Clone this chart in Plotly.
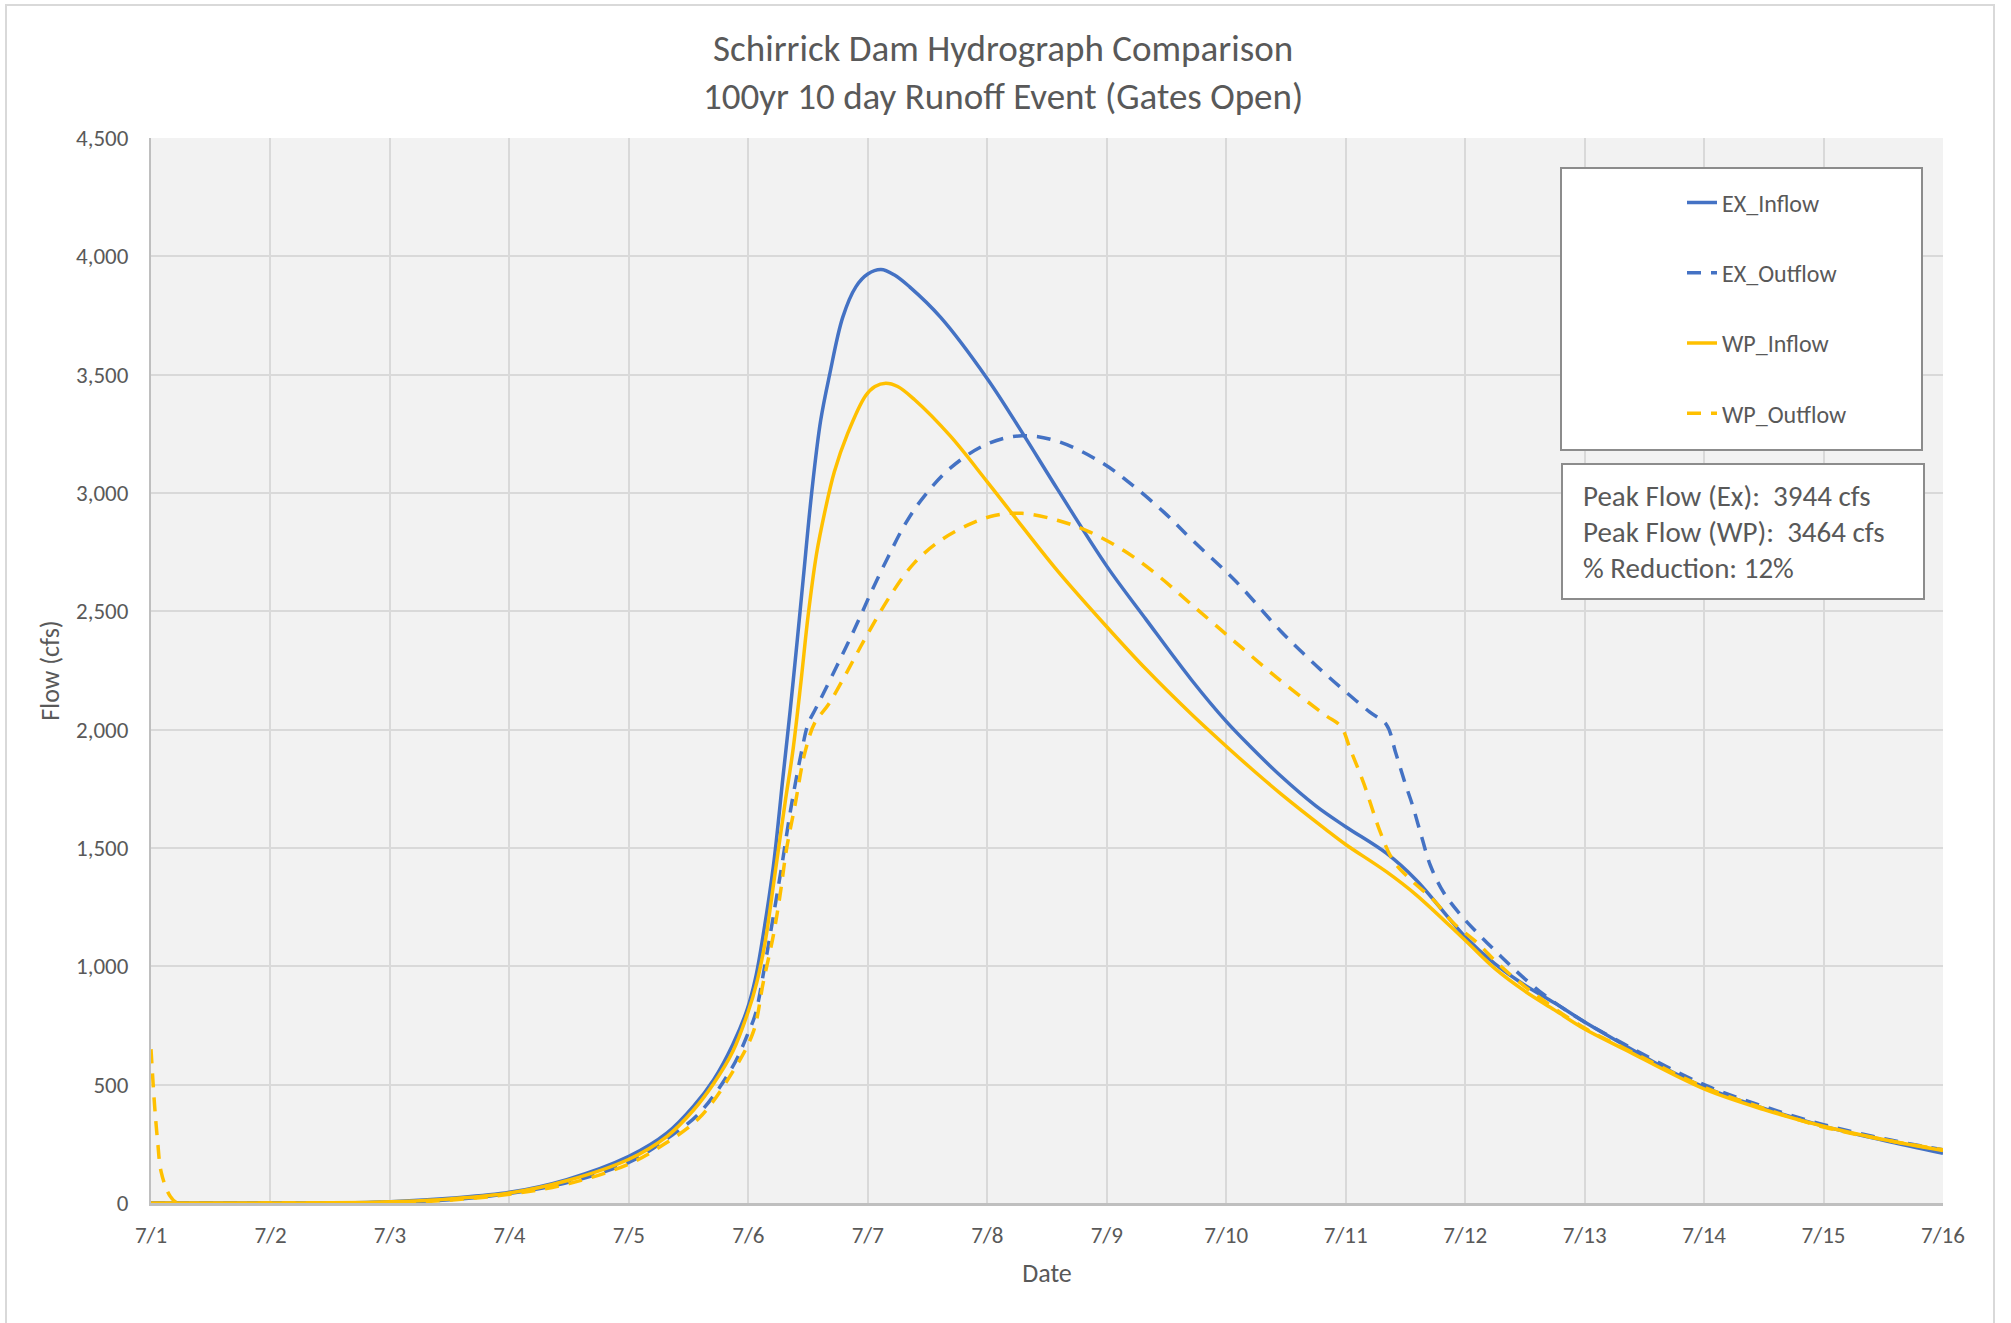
import pandas as pd
import plotly.graph_objects as go

# ---------------- data (day offsets from 7/1, flow in cfs) ----------------
start_date = "2019-07-01"
end_date = "2019-07-16"

ex_inflow_day = [0, 1, 1.8, 2.08, 2.5, 3.0, 3.48, 4.0, 4.32, 4.54, 4.71, 4.87, 4.99, 5.06, 5.13,
                 5.21, 5.29, 5.35, 5.41, 5.46, 5.53, 5.605, 5.68, 5.79, 5.9, 6.0, 6.11, 6.22, 6.35,
                 6.61, 7.0, 7.29, 7.59, 8.0, 8.33, 8.71, 9.0, 9.2, 9.455, 9.75, 10.0, 10.34, 10.59,
                 11.0, 11.25, 11.5, 11.75, 12.0, 12.33, 12.67, 13.0, 13.5, 14.0, 14.5, 15.0]
ex_inflow = [0, 0, 2, 7, 20, 45, 99, 197, 296, 408, 521, 670, 817, 950, 1150,
             1425, 1800, 2080, 2380, 2640, 3000, 3305, 3499, 3742, 3871, 3925, 3944, 3922, 3871,
             3742, 3483, 3257, 3014, 2691, 2465, 2210, 2035, 1930, 1805, 1678, 1590, 1478, 1365,
             1125, 1010, 920, 845, 765, 668, 570, 490, 400, 325, 265, 210]

ex_outflow_day = [0, 1, 2, 2.5, 3.0, 3.5, 4.0, 4.3, 4.59, 4.87, 5.0, 5.06, 5.14, 5.21, 5.28,
                  5.36, 5.45, 5.5, 5.56, 5.63, 5.74, 5.84, 5.93, 6.02, 6.17, 6.32, 6.47, 6.69,
                  6.99, 7.29, 7.59, 7.96, 8.22, 8.48, 8.71, 9.08, 9.455, 9.67, 9.83, 10.0, 10.2,
                  10.34, 10.42, 10.5, 10.56, 10.64, 10.71, 10.82, 10.97, 11.13, 11.3, 11.46,
                  11.66, 11.86, 12.0, 12.3, 13.0, 13.5, 14.0, 14.5, 15.0]
ex_outflow = [0, 0, 3, 14, 40, 88, 172, 265, 380, 577, 720, 800, 1010, 1214, 1425,
              1679, 1918, 2024, 2085, 2155, 2268, 2372, 2470, 2572, 2730, 2875, 2985, 3105,
              3205, 3242, 3218, 3128, 3031, 2918, 2804, 2627, 2417, 2310, 2235, 2160, 2075,
              2022, 1900, 1770, 1680, 1540, 1425, 1312, 1213, 1127, 1042, 965,
              880, 809, 765, 680, 500, 408, 331, 272, 225]

wp_inflow_day = [0, 1, 1.8, 2.08, 2.5, 3.0, 3.48, 4.0, 4.32, 4.54, 4.71, 4.87, 5.0, 5.07, 5.14,
                 5.22, 5.31, 5.37, 5.44, 5.5, 5.57, 5.64, 5.72, 5.83, 5.98, 6.06, 6.15, 6.25,
                 6.39, 6.69, 7.0, 7.29, 7.59, 8.0, 8.33, 8.71, 9.0, 9.2, 9.455, 9.83, 10.0,
                 10.34, 10.59, 11.0, 11.25, 11.5, 11.75, 12.0, 12.33, 13.0, 13.5, 14.0, 14.5, 15.0]
wp_inflow = [0, 0, 2, 6, 17, 42, 94, 185, 282, 392, 505, 640, 810, 930, 1100,
             1380, 1700, 1900, 2200, 2480, 2740, 2920, 3090, 3250, 3410, 3450, 3464, 3450,
             3395, 3241, 3047, 2860, 2670, 2435, 2255, 2065, 1930, 1840, 1730, 1580, 1515,
             1400, 1302, 1110, 990, 895, 815, 735, 650, 482, 395, 324, 268, 222]

wp_outflow_day = [0, 0.03, 0.056, 0.084, 0.154, 0.224, 1, 2, 2.5, 3.0, 3.5, 4.0, 4.3, 4.59, 4.87,
                  5.04, 5.125, 5.209, 5.265, 5.32, 5.39, 5.474, 5.558, 5.669, 5.795, 5.907,
                  6.016, 6.2, 6.39, 6.61, 6.84, 7.06, 7.29, 7.586, 7.85, 8.146, 8.41, 8.707,
                  9.08, 9.455, 9.83, 9.96, 10.04, 10.15, 10.29, 10.4, 10.54, 10.73, 10.9, 11.1,
                  11.27, 11.43, 11.63, 12.0, 12.33, 13.0, 13.5, 14.0, 14.5, 15.0]
wp_outflow = [650, 413, 258, 134, 34, 0, 0, 2, 12, 37, 82, 165, 250, 360, 555,
              721, 932, 1130, 1299, 1496, 1679, 1904, 2031, 2105, 2215, 2320,
              2420, 2575, 2705, 2800, 2865, 2905, 2914, 2885, 2837, 2756, 2659, 2530,
              2368, 2207, 2061, 2013, 1915, 1775, 1567, 1445, 1368, 1283, 1184, 1100,
              1014, 943, 865, 739, 655, 490, 400, 321, 268, 225]

series_names = ["EX_Inflow", "EX_Outflow", "WP_Inflow", "WP_Outflow"]
series_days = [ex_inflow_day, ex_outflow_day, wp_inflow_day, wp_outflow_day]
series_vals = [ex_inflow, ex_outflow, wp_inflow, wp_outflow]
series_colors = ["#4472C4", "#4472C4", "#FFC000", "#FFC000"]
series_dash = ["solid", "14px,10px", "solid", "14px,10px"]

y_tick_vals = [0, 500, 1000, 1500, 2000, 2500, 3000, 3500, 4000, 4500]

# ---------------- figure ----------------
FONT = "Calibri, Carlito, Lato, sans-serif"
TXT = "#595959"
base = pd.Timestamp(start_date)

fig = go.Figure()
for name, days, vals, col, dash in zip(series_names, series_days, series_vals,
                                        series_colors, series_dash):
    x = base + pd.to_timedelta(days, unit="D")
    fig.add_trace(go.Scatter(
        x=x, y=vals, name=name, mode="lines", legendgroup=name,
        line=dict(color=col, width=3.5, dash=dash, shape="spline", smoothing=1.0),
    ))

peak_ex = max(ex_inflow)
peak_wp = max(wp_inflow)
reduction = round((peak_ex - peak_wp) / peak_ex * 100)
note_lines = [f"Peak Flow (Ex):\u00a0 {peak_ex} cfs",
              f"Peak Flow (WP):\u00a0 {peak_wp} cfs",
              f"% Reduction: {reduction}%"]

W, H = 2011, 1323
L, R, T, B = 151, 68, 138, 120
pw, ph = W - L - R, H - T - B


def px(xp):
    return (xp - L) / pw


def py(yp):
    return (H - B - yp) / ph


note_y = [496, 532, 568]
annotations = [
    dict(text=t, xref="paper", yref="paper", x=px(1581), y=py(yy),
         xanchor="left", yanchor="middle", align="left", showarrow=False,
         font=dict(size=29, color=TXT, family=FONT))
    for t, yy in zip(note_lines, note_y)
]

fig.update_layout(
    width=W, height=H, autosize=False,
    margin=dict(l=L, r=R, t=T, b=B, pad=0),
    paper_bgcolor="white", plot_bgcolor="#F2F2F2",
    font=dict(family=FONT, color=TXT, size=23),
    title=dict(text="Schirrick Dam Hydrograph Comparison<br>100yr 10 day Runoff Event (Gates Open)",
               x=0.4988, xanchor="center", y=1 - 61 / H, yanchor="top",
               font=dict(size=37, color=TXT, family=FONT)),
    xaxis=dict(type="date", range=[start_date, end_date], dtick=86400000,
               tick0=start_date, tickformat="%-m/%-d",
               showgrid=True, gridcolor="#D9D9D9", gridwidth=1.5,
               showline=True, linecolor="#BFBFBF", linewidth=2.5, zeroline=False,
               ticks="", ticklabelstandoff=10,
               tickfont=dict(size=23, color=TXT),
               title=dict(text="Date", font=dict(size=26, color=TXT), standoff=16)),
    yaxis=dict(range=[0, 4500], tickvals=y_tick_vals, tickformat=",d",
               showgrid=True, gridcolor="#D9D9D9", gridwidth=1.5,
               showline=True, linecolor="#BFBFBF", linewidth=2, zeroline=False,
               ticks="", ticklabelstandoff=16,
               tickfont=dict(size=23, color=TXT),
               title=dict(text="Flow (cfs)", font=dict(size=26, color=TXT), standoff=9)),
    legend=dict(x=px(1682), xanchor="left", y=py(180.5), yanchor="top",
                bgcolor="rgba(0,0,0,0)", borderwidth=0,
                font=dict(size=24, color=TXT), tracegroupgap=36,
                traceorder="grouped"),
    showlegend=True,
    shapes=[
        # legend box
        dict(type="rect", xref="paper", yref="paper", layer="above",
             x0=px(1561), x1=px(1922), y0=py(450), y1=py(168),
             fillcolor="white", line=dict(color="#8C8C8C", width=2)),
        # note box
        dict(type="rect", xref="paper", yref="paper", layer="above",
             x0=px(1562), x1=px(1924), y0=py(599), y1=py(464),
             fillcolor="white", line=dict(color="#8C8C8C", width=2)),
        # chart outer border
        dict(type="rect", xref="paper", yref="paper", layer="below",
             x0=px(6), x1=px(1994), y0=py(1340), y1=py(5),
             fillcolor="rgba(0,0,0,0)", line=dict(color="#D9D9D9", width=2)),
    ],
    annotations=annotations,
)

fig.write_html("out.html")
